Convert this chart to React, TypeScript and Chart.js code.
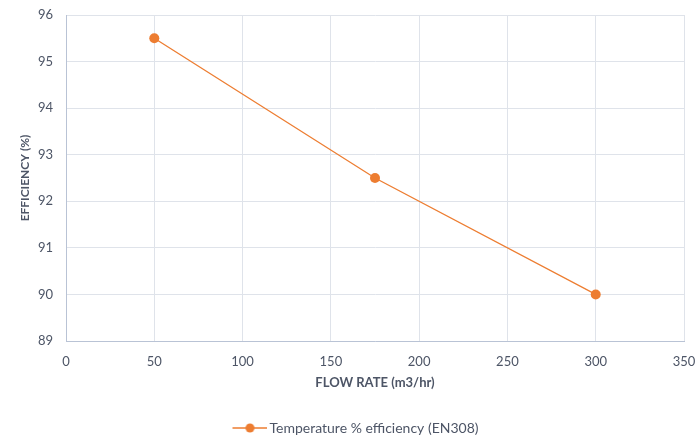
import React, { useEffect, useRef } from "react";
import { Chart, registerables } from "chart.js";

Chart.register(...registerables);

const flowRates = [50, 175, 300];
const efficiencies = [95.5, 92.5, 90];
const seriesLabel = "Temperature % efficiency (EN308)";
const xTitle = "FLOW RATE (m3/hr)";
const yTitle = "EFFICIENCY (%)";

const ORANGE = "#ED7D31";
const TEXT = "#4d5566";
const GRID = "#dfe3ea";
const AXIS = "#b9c3d5";
const FONT = "Lato, 'Open Sans', sans-serif";

function legendIcon(): HTMLCanvasElement {
  const c = document.createElement("canvas");
  c.width = 67;
  c.height = 12;
  const ctx = c.getContext("2d")!;
  ctx.strokeStyle = ORANGE;
  ctx.lineWidth = 1.5;
  ctx.beginPath();
  ctx.moveTo(32, 6);
  ctx.lineTo(67, 6);
  ctx.stroke();
  ctx.fillStyle = ORANGE;
  ctx.beginPath();
  ctx.arc(49.5, 6, 4.5, 0, Math.PI * 2);
  ctx.fill();
  return c;
}

const shiftLegend = {
  id: "shiftLegend",
  afterLayout(chart: any) {
    if (chart.legend) {
      chart.legend.top += 3;
      chart.legend.bottom += 3;
    }
  },
};

export default function App() {
  const ref = useRef<HTMLCanvasElement>(null);
  useEffect(() => {
    document.body.style.margin = "0";
    const icon = legendIcon();
    const chart = new Chart(ref.current!, {
      type: "scatter",
      data: {
        datasets: [
          {
            label: seriesLabel,
            data: flowRates.map((x, i) => ({ x, y: efficiencies[i] })),
            showLine: true,
            borderColor: ORANGE,
            backgroundColor: ORANGE,
            borderWidth: 1.3,
            pointRadius: 5,
            pointHoverRadius: 5,
            pointBorderWidth: 0,
          },
        ],
      },
      plugins: [shiftLegend],
      options: {
        animation: false,
        responsive: false,
        maintainAspectRatio: false,
        layout: { padding: { top: 15, right: 16, left: 0, bottom: 0 } },
        plugins: {
          tooltip: { enabled: false },
          legend: {
            position: "bottom",
            labels: {
              usePointStyle: true,
              pointStyleWidth: 57,
              color: TEXT,
              font: { family: FONT, size: 14 },
              padding: 10,
              generateLabels: () => [
                {
                  text: seriesLabel,
                  pointStyle: icon as any,
                  fillStyle: ORANGE,
                  strokeStyle: ORANGE,
                  lineWidth: 0,
                  fontColor: TEXT,
                  datasetIndex: 0,
                  hidden: false,
                } as any,
              ],
            },
          },
        },
        scales: {
          x: {
            type: "linear",
            min: 0,
            max: 350,
            ticks: { stepSize: 50, color: TEXT, font: { family: FONT, size: 13 }, padding: 13 },
            grid: { color: GRID, drawTicks: false },
            border: { color: AXIS, width: 1 },
            title: {
              display: true,
              text: xTitle,
              color: TEXT,
              font: { family: FONT, size: 13, weight: "bold" },
              padding: { top: 4, bottom: 17 },
            },
            afterFit: (s: any) => {
              s.height = 67;
              s.paddingLeft = 0;
              s.paddingRight = 0;
            },
          },
          y: {
            type: "linear",
            min: 89,
            max: 96,
            ticks: { stepSize: 1, color: TEXT, font: { family: FONT, size: 13 }, padding: 13 },
            grid: { color: GRID, drawTicks: false },
            border: { color: AXIS, width: 1 },
            title: {
              display: true,
              text: yTitle,
              color: TEXT,
              font: { family: FONT, size: 12, weight: "bold" },
              padding: { top: 18, bottom: 0 },
            },
            afterFit: (s: any) => {
              s.width = 66;
              s.paddingTop = 0;
              s.paddingBottom = 0;
            },
          },
        },
      },
    });
    return () => chart.destroy();
  }, []);
  return (
    <div style={{ width: 700, height: 442 }}>
      <canvas ref={ref} width={700} height={442} />
    </div>
  );
}
